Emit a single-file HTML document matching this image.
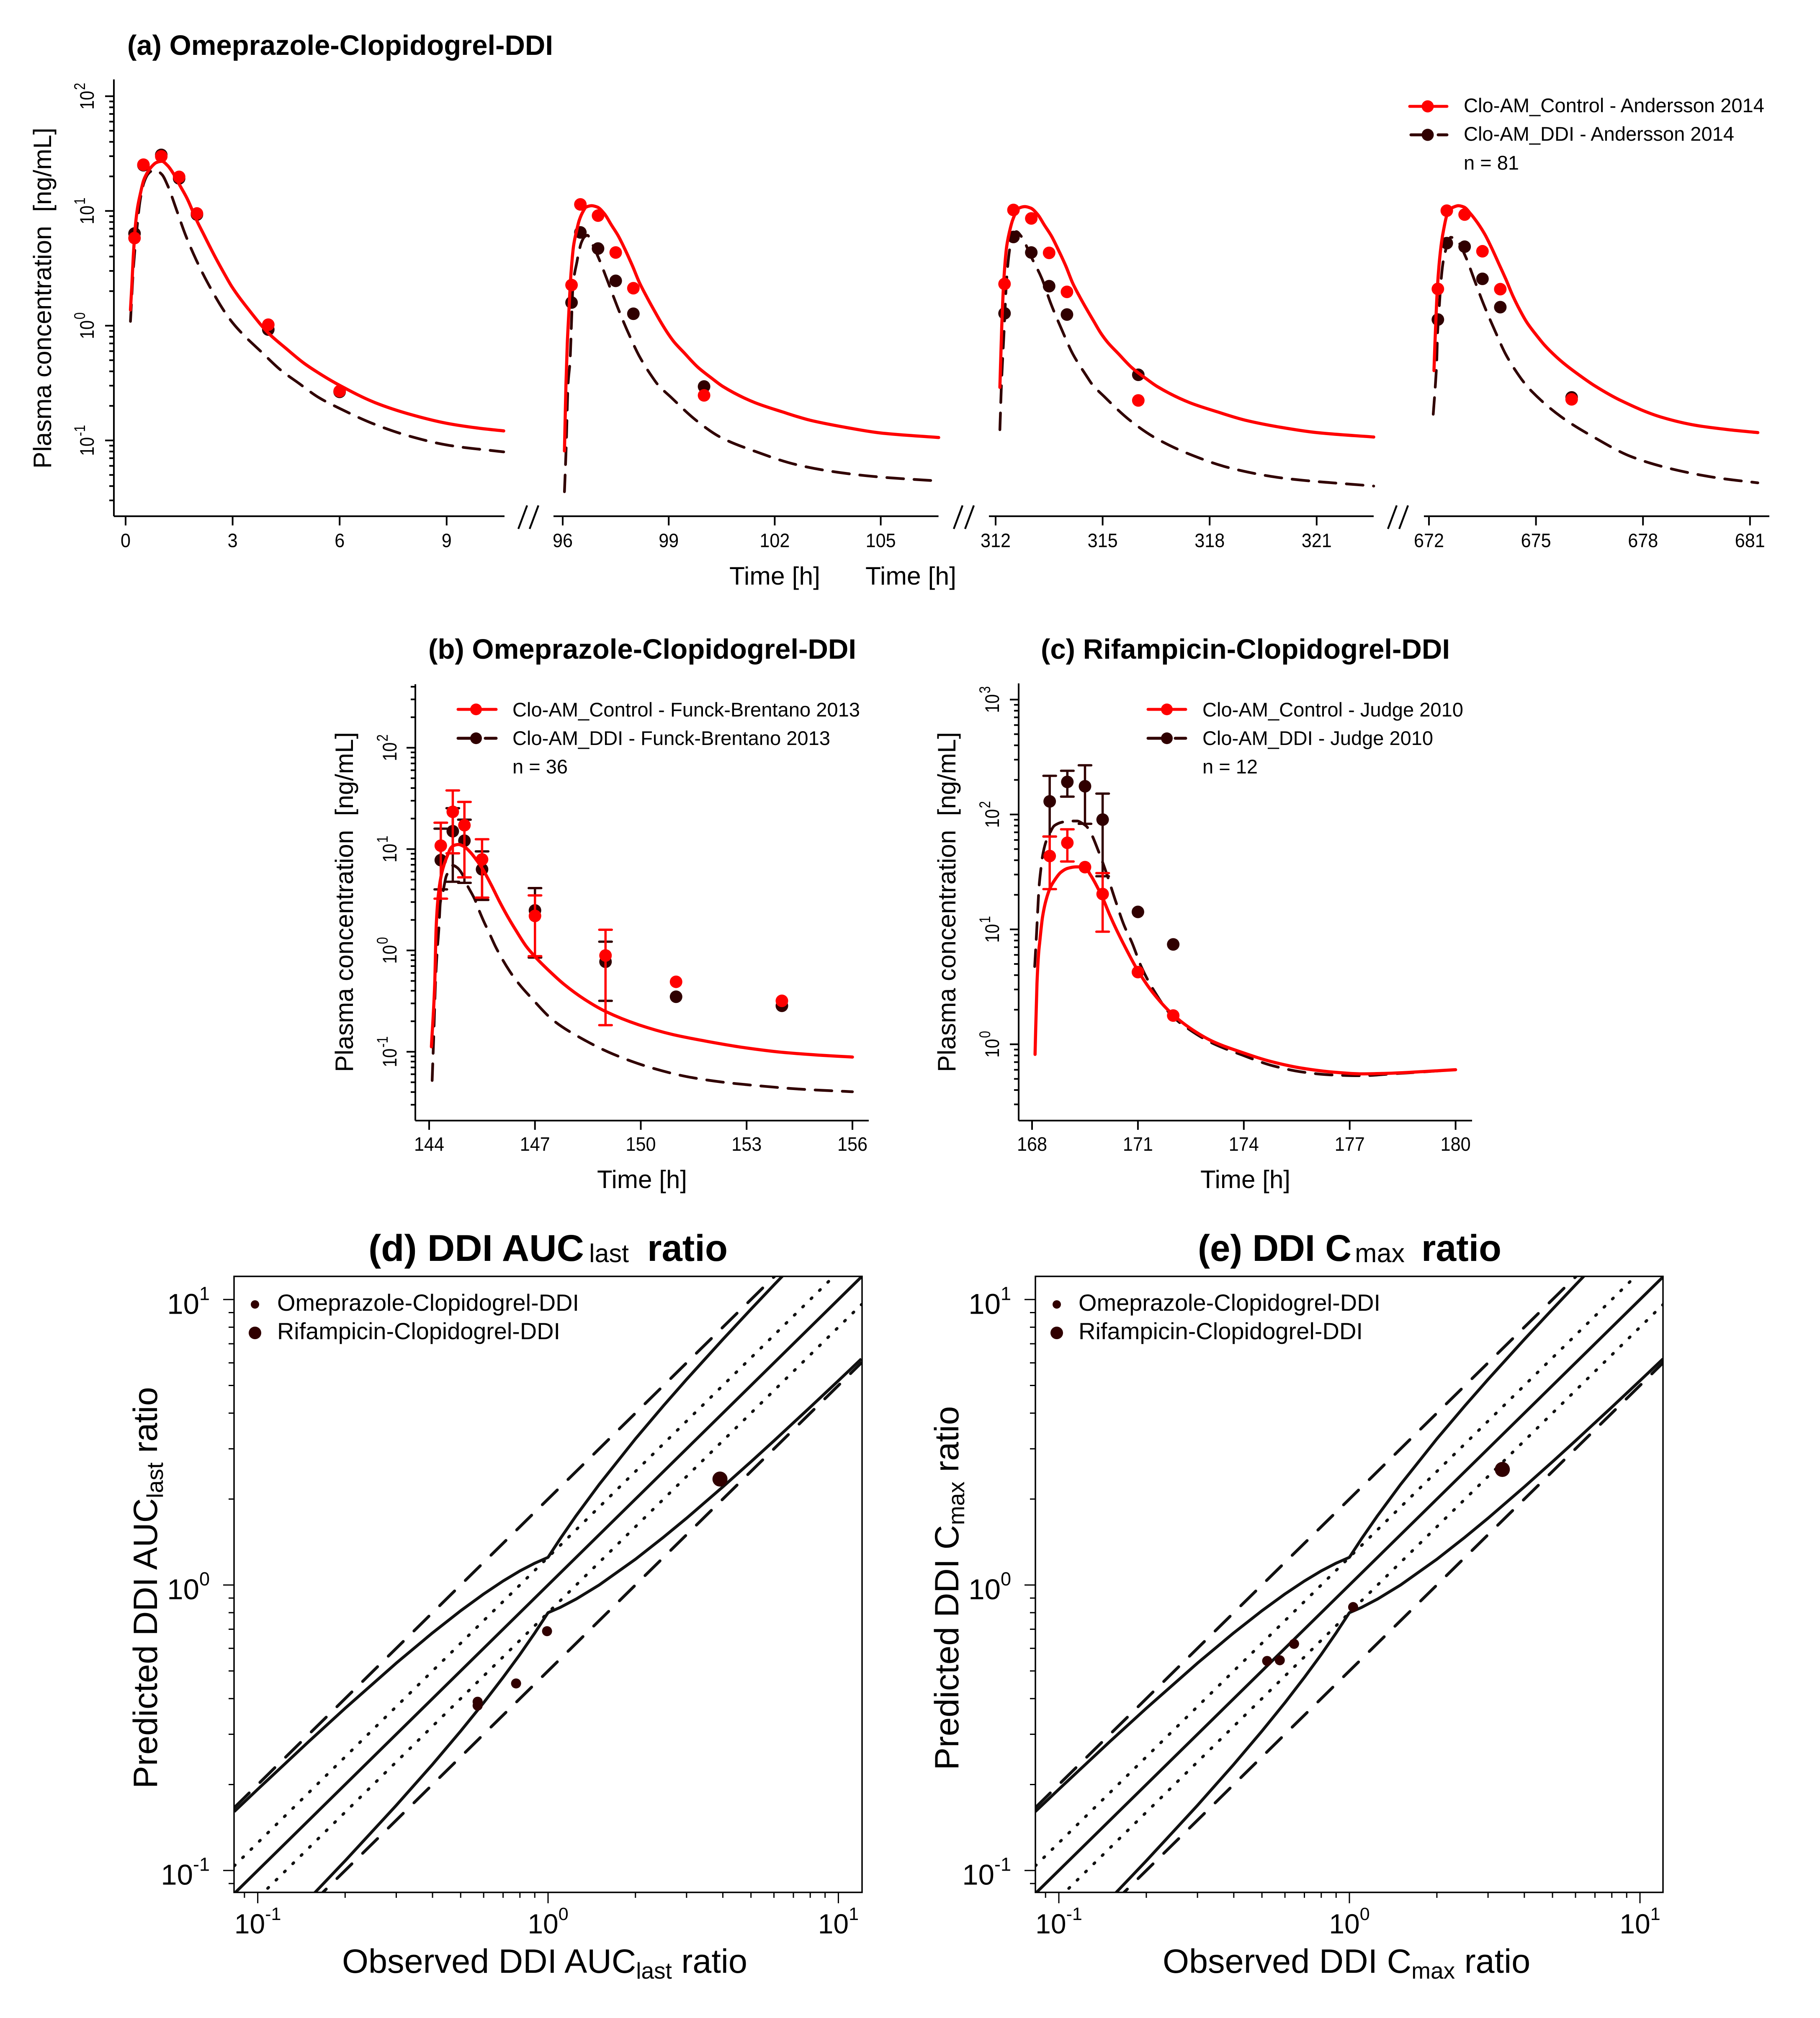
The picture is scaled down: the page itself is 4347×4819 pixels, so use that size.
<!DOCTYPE html>
<html lang="en">
<head>
<meta charset="utf-8">
<title>Clopidogrel DDI plasma concentration and ratio plots</title>
<style>
html,body{margin:0;padding:0;background:#fff;}
svg{display:block;font-family:"Liberation Sans",Arial,sans-serif;}
text{fill:#000;}
.t{font-weight:bold;font-size:67px;}
.lg{font-size:47px;}
.ax{font-size:60px;}
.rt{font-size:81px;}
</style>
</head>
<body>
<svg id="chart" xmlns="http://www.w3.org/2000/svg" width="4347" height="4819" viewBox="0 0 4347 4819">
<defs>
<clipPath id="clipD"><rect x="559" y="3048" width="1500" height="1471"/></clipPath>
<clipPath id="clipE"><rect x="2473" y="3048" width="1499" height="1471"/></clipPath>
</defs>
<rect x="0" y="0" width="4347" height="4819" fill="#fff"/>

<text class="t" x="304" y="131" textLength="1017" lengthAdjust="spacingAndGlyphs">(a) Omeprazole-Clopidogrel-DDI</text>
<text class="t" x="1023" y="1573" textLength="1022" lengthAdjust="spacingAndGlyphs">(b) Omeprazole-Clopidogrel-DDI</text>
<text class="t" x="2486" y="1573" textLength="977" lengthAdjust="spacingAndGlyphs">(c) Rifampicin-Clopidogrel-DDI</text>

<text font-weight="bold" font-size="89" x="880" y="3011" textLength="515" lengthAdjust="spacingAndGlyphs">(d) DDI AUC</text>
<text font-size="61" x="1407" y="3014" textLength="95" lengthAdjust="spacingAndGlyphs">last</text>
<text font-weight="bold" font-size="89" x="1546" y="3011" textLength="192" lengthAdjust="spacingAndGlyphs">ratio</text>

<text font-weight="bold" font-size="89" x="2861" y="3011" textLength="367" lengthAdjust="spacingAndGlyphs">(e) DDI C</text>
<text font-size="63" x="3236" y="3014" textLength="119" lengthAdjust="spacingAndGlyphs">max</text>
<text font-weight="bold" font-size="89" x="3395" y="3011" textLength="191" lengthAdjust="spacingAndGlyphs">ratio</text>

<text class="ax" transform="translate(122 1119) rotate(-90)" textLength="814" lengthAdjust="spacingAndGlyphs">Plasma concentration&#160;&#160;[ng/mL]</text>
<text class="ax" x="1742" y="1396" textLength="217" lengthAdjust="spacingAndGlyphs">Time [h]</text>
<text class="ax" x="2067" y="1396" textLength="217" lengthAdjust="spacingAndGlyphs">Time [h]</text>

<text class="ax" transform="translate(843 2560) rotate(-90)" textLength="812" lengthAdjust="spacingAndGlyphs">Plasma concentration&#160;&#160;[ng/mL]</text>
<text class="ax" x="1426" y="2837" textLength="215" lengthAdjust="spacingAndGlyphs">Time [h]</text>
<text class="ax" transform="translate(2282 2560) rotate(-90)" textLength="812" lengthAdjust="spacingAndGlyphs">Plasma concentration&#160;&#160;[ng/mL]</text>
<text class="ax" x="2867" y="2837" textLength="215" lengthAdjust="spacingAndGlyphs">Time [h]</text>

<text class="rt" x="817" y="4711">Observed DDI AUC<tspan font-size="55" dy="14">last</tspan><tspan dy="-14"> ratio</tspan></text>
<text class="rt" transform="translate(375 4271) rotate(-90)">Predicted DDI AUC<tspan font-size="55" dy="14">last</tspan><tspan dy="-14"> ratio</tspan></text>
<text class="rt" x="2777" y="4711">Observed DDI C<tspan font-size="55" dy="14">max</tspan><tspan dy="-14"> ratio</tspan></text>
<text class="rt" transform="translate(2289 4227) rotate(-90)">Predicted DDI C<tspan font-size="55" dy="14">max</tspan><tspan dy="-14"> ratio</tspan></text>

<g id="plots"></g>

<g>
  <line x1="3367" x2="3456" y1="254" y2="254" stroke="#ff0000" stroke-width="7" stroke-linecap="round"/>
  <circle cx="3410" cy="254" r="14.5" fill="#ff0000"/>
  <text class="lg" x="3496" y="268" textLength="718" lengthAdjust="spacingAndGlyphs">Clo-AM_Control - Andersson 2014</text>
  <line x1="3370" x2="3456" y1="322" y2="322" stroke="#300000" stroke-width="7" stroke-linecap="round" stroke-dasharray="40 25"/>
  <circle cx="3410" cy="322" r="14.5" fill="#300000"/>
  <text class="lg" x="3496" y="336" textLength="646" lengthAdjust="spacingAndGlyphs">Clo-AM_DDI - Andersson 2014</text>
  <text class="lg" x="3496" y="405">n = 81</text>
</g>
<g>
  <line x1="1094" x2="1185" y1="1694" y2="1694" stroke="#ff0000" stroke-width="7" stroke-linecap="round"/>
  <circle cx="1137" cy="1694" r="14" fill="#ff0000"/>
  <text class="lg" x="1224" y="1711" textLength="830" lengthAdjust="spacingAndGlyphs">Clo-AM_Control - Funck-Brentano 2013</text>
  <line x1="1094" x2="1185" y1="1763" y2="1763" stroke="#300000" stroke-width="7" stroke-linecap="round" stroke-dasharray="40 25"/>
  <circle cx="1137" cy="1763" r="14" fill="#300000"/>
  <text class="lg" x="1224" y="1779" textLength="759" lengthAdjust="spacingAndGlyphs">Clo-AM_DDI - Funck-Brentano 2013</text>
  <text class="lg" x="1224" y="1847">n = 36</text>
</g>
<g>
  <line x1="2742" x2="2832" y1="1694" y2="1694" stroke="#ff0000" stroke-width="7" stroke-linecap="round"/>
  <circle cx="2787" cy="1694" r="14" fill="#ff0000"/>
  <text class="lg" x="2872" y="1711" textLength="623" lengthAdjust="spacingAndGlyphs">Clo-AM_Control - Judge 2010</text>
  <line x1="2742" x2="2832" y1="1763" y2="1763" stroke="#300000" stroke-width="7" stroke-linecap="round" stroke-dasharray="40 25"/>
  <circle cx="2787" cy="1763" r="14" fill="#300000"/>
  <text class="lg" x="2872" y="1779" textLength="551" lengthAdjust="spacingAndGlyphs">Clo-AM_DDI - Judge 2010</text>
  <text class="lg" x="2872" y="1847">n = 12</text>
</g>
<g>
  <circle cx="609" cy="3115" r="10" fill="#300000"/>
  <text font-size="56" x="662" y="3130" textLength="721" lengthAdjust="spacingAndGlyphs">Omeprazole-Clopidogrel-DDI</text>
  <circle cx="609" cy="3183" r="15" fill="#300000"/>
  <text font-size="56" x="662" y="3198" textLength="676" lengthAdjust="spacingAndGlyphs">Rifampicin-Clopidogrel-DDI</text>
</g>
<g>
  <circle cx="2524" cy="3115" r="10" fill="#300000"/>
  <text font-size="56" x="2576" y="3130" textLength="721" lengthAdjust="spacingAndGlyphs">Omeprazole-Clopidogrel-DDI</text>
  <circle cx="2524" cy="3183" r="15" fill="#300000"/>
  <text font-size="56" x="2576" y="3198" textLength="679" lengthAdjust="spacingAndGlyphs">Rifampicin-Clopidogrel-DDI</text>
</g>
</svg>

<script>
// ---------- Panel (a), segment 1: 0-10.6 h ----------
const a1ObsTime = [0.25, 0.5, 1, 1.5, 2, 4, 6];
const a1ObsControl = [5.8, 25.3, 29.9, 19.8, 9.5, 1.02, 0.269];
const a1ObsDdi = [6.36, 25, 30.8, 19.2, 9.3, 0.925, 0.265];
const a1SimControlTime = [0.136, 0.176, 0.215, 0.274, 0.333, 0.411, 0.509, 0.626, 0.743, 0.861, 1.017, 1.174, 1.33, 1.526, 1.721, 1.995, 2.191, 2.387, 2.582, 2.778, 2.973, 3.5, 4, 4.5, 5, 5.5, 6, 7, 8, 9, 9.8, 10.6];
const a1SimControl = [1.37, 2.27, 3.98, 7.37, 10.6, 14, 18.6, 22, 24.6, 26.4, 27.1, 24.9, 21.4, 16.6, 12.9, 8.24, 6.23, 4.71, 3.61, 2.8, 2.2, 1.32, 0.863, 0.632, 0.471, 0.372, 0.302, 0.213, 0.168, 0.141, 0.129, 0.121];
const a1SimDdiTime = [0.136, 0.22, 0.3, 0.41, 0.51, 0.63, 0.73, 0.841, 1.017, 1.174, 1.428, 1.682, 1.976, 2.308, 2.77, 3.0, 3.29, 3.82, 4.34, 4.86, 5.39, 6, 6.96, 8, 9.06, 10.6];
const a1SimDdi = [1.09, 3.2, 6.2, 12.5, 17.5, 21, 22.3, 22.6, 20.8, 16.8, 10.2, 6.14, 3.76, 2.34, 1.33, 1.06, 0.84, 0.585, 0.412, 0.314, 0.239, 0.19, 0.139, 0.108, 0.0906, 0.0794];
const a1Ticks = [0, 3, 6, 9];

// ---------- Panel (a), segment 2: 96 h onward (times relative to 96 h) ----------
const a2ObsTime = [0.25, 0.5, 1, 1.5, 2, 4];
const a2ObsControl = [2.26, 11.4, 9.1, 4.34, 2.12, 0.247];
const a2ObsDdi = [1.59, 6.5, 4.7, 2.46, 1.27, 0.295];
const a2SimControlTime = [0.05, 0.091, 0.13, 0.17, 0.229, 0.308, 0.387, 0.466, 0.565, 0.664, 0.821, 0.979, 1.177, 1.374, 1.572, 1.769, 1.967, 2.164, 2.362, 2.559, 2.757, 2.954, 3.152, 3.428, 3.823, 4.218, 4.534, 5.43, 6.2, 7, 8, 9, 10.64];
const a2SimControl = [0.081, 0.303, 0.701, 1.23, 2.69, 4.98, 6.59, 8.24, 9.75, 10.8, 11.1, 10.8, 9.48, 7.58, 6.06, 4.58, 3.36, 2.4, 1.82, 1.41, 1.1, 0.877, 0.721, 0.584, 0.435, 0.348, 0.295, 0.214, 0.178, 0.15, 0.13, 0.116, 0.106];
const a2SimDdiTime = [0.05, 0.1, 0.15, 0.209, 0.257, 0.288, 0.407, 0.446, 0.525, 0.624, 0.703, 0.782, 1.019, 1.295, 1.552, 1.848, 2.164, 2.559, 2.697, 3.05, 3.76, 4.48, 5.43, 6.62, 7.81, 9, 10.64];
const a2SimDdi = [0.0357, 0.0906, 0.303, 0.5, 1.26, 2.15, 3.66, 4.21, 5.27, 5.97, 6.14, 5.57, 3.87, 2.34, 1.45, 0.877, 0.545, 0.348, 0.305, 0.24, 0.151, 0.106, 0.0806, 0.0614, 0.0526, 0.0479, 0.0443];
const a2Ticks = [96, 99, 102, 105];

// ---------- Panel (a), segment 3: 312 h onward (times relative to 312 h) ----------
const a3ObsTime = [0.25, 0.5, 1, 1.5, 2, 4];
const a3ObsControl = [2.31, 10.2, 8.6, 4.31, 1.97, 0.223];
const a3ObsDdi = [1.28, 5.93, 4.34, 2.21, 1.25, 0.373];
const a3SimControlTime = [0.12, 0.17, 0.23, 0.31, 0.39, 0.47, 0.57, 0.66, 0.82, 0.98, 1.18, 1.37, 1.57, 1.77, 1.97, 2.16, 2.36, 2.56, 2.76, 2.95, 3.15, 3.43, 3.82, 4.22, 4.53, 5.43, 6.2, 7, 8, 9, 10.6];
const a3SimControl = [0.29, 0.95, 2.5, 4.9, 6.6, 8.2, 9.7, 10.6, 10.9, 10.6, 9.3, 7.5, 6, 4.5, 3.3, 2.35, 1.78, 1.38, 1.08, 0.86, 0.71, 0.575, 0.43, 0.345, 0.295, 0.214, 0.178, 0.15, 0.13, 0.117, 0.107];
const a3SimDdiTime = [0.12, 0.16, 0.24, 0.31, 0.4, 0.47, 0.58, 0.72, 1.01, 1.29, 1.55, 1.85, 2.16, 2.56, 2.7, 3.05, 3.76, 4.48, 5.43, 6.62, 8.09, 10.6];
const a3SimDdi = [0.124, 0.29, 0.93, 2.56, 4.77, 5.9, 6.6, 6.0, 3.9, 2.6, 1.55, 0.93, 0.57, 0.36, 0.31, 0.24, 0.15, 0.105, 0.076, 0.057, 0.0468, 0.04];
const a3Ticks = [312, 315, 318, 321];

// ---------- Panel (a), segment 4: 672 h onward (times relative to 672 h) ----------
const a4ObsTime = [0.25, 0.5, 1, 1.5, 2, 4];
const a4ObsControl = [2.09, 10.05, 9.3, 4.45, 2.08, 0.228];
const a4ObsDdi = [1.13, 5.24, 4.88, 2.56, 1.45, 0.237];
const a4SimControlTime = [0.141, 0.168, 0.2, 0.239, 0.297, 0.356, 0.415, 0.493, 0.591, 0.689, 0.825, 0.982, 1.178, 1.373, 1.569, 1.764, 1.96, 2.156, 2.351, 2.547, 2.743, 2.977, 3.251, 3.564, 3.838, 4.229, 4.62, 5.4, 6.5, 7.5, 8.4, 9.22];
const a4SimControl = [0.406, 0.701, 1.23, 2.21, 3.76, 5.42, 6.97, 8.97, 10.3, 10.8, 11.1, 10.8, 9.35, 7.79, 6.23, 4.71, 3.46, 2.54, 1.82, 1.37, 1.07, 0.853, 0.671, 0.537, 0.454, 0.368, 0.303, 0.221, 0.16, 0.135, 0.124, 0.117];
const a4SimDdiTime = [0.12, 0.18, 0.219, 0.239, 0.286, 0.336, 0.395, 0.434, 0.493, 0.61, 0.767, 1.021, 1.287, 1.549, 1.843, 2.156, 2.547, 2.664, 2.87, 3.69, 4.64, 5.69, 6.99, 8.16, 9.22];
const a4SimDdi = [0.169, 0.303, 0.5, 0.83, 1.41, 2.4, 3.56, 4.09, 4.84, 5.89, 5.65, 4.03, 2.44, 1.49, 0.914, 0.56, 0.358, 0.32, 0.27, 0.162, 0.106, 0.0718, 0.0547, 0.0468, 0.0427];
const a4Ticks = [672, 675, 678, 681];
const aYExponents = [-1, 0, 1, 2];

// ---------- Panel (b): Funck-Brentano 2013 (times relative to 144 h) ----------
const bObsTime = [0.33, 0.67, 1, 1.5, 3, 5, 7, 10];
const bObsControl = [10.8, 23.3, 17.2, 7.9, 2.19, 0.891, 0.49, 0.318];
const bObsDdi = [7.78, 15, 12.1, 6.31, 2.48, 0.773, 0.349, 0.284];
const bErrTime = [0.33, 0.67, 1, 1.5, 3, 5];
const bControlUpper = [18.2, 37.9, 29.2, 12.5, 3.49, 1.6];
const bControlLower = [3.24, 9.08, 5.26, 3.32, 0.877, 0.183];
const bDdiUpper = [15.9, 25.3, 19.5, 9.49, 4.12, 1.22];
const bDdiLower = [4, 4.76, 4.64, 3.15, 0.85, 0.318];
const bSimControlTime = [0.064, 0.158, 0.198, 0.257, 0.336, 0.415, 0.534, 0.613, 0.712, 0.831, 0.989, 1.167, 1.325, 1.503, 1.761, 1.998, 2.235, 2.473, 2.75, 3.026, 3.422, 3.818, 4.4, 5, 5.95, 6.9, 7.86, 8.92, 9.98, 11.04, 12];
const bSimControl = [0.112, 0.465, 1.66, 3.43, 5.35, 6.89, 8.89, 10.25, 10.9, 11.1, 10.6, 9.31, 7.95, 6.47, 4.42, 3.02, 2.13, 1.55, 1.1, 0.849, 0.619, 0.465, 0.33, 0.25, 0.184, 0.148, 0.127, 0.11, 0.099, 0.0927, 0.0887];
const bSimDdiTime = [0.085, 0.127, 0.178, 0.218, 0.277, 0.317, 0.376, 0.487, 0.593, 0.673, 0.791, 0.969, 1.048, 1.306, 1.365, 1.583, 1.662, 1.899, 2.275, 2.552, 2.88, 3.52, 4.36, 5.21, 6.27, 7.33, 8.39, 9.45, 10.5, 12];
const bSimDdi = [0.052, 0.132, 0.465, 0.879, 1.66, 2.97, 3.54, 5.43, 6.27, 6.9, 6.58, 5.43, 4.64, 3.12, 2.75, 1.82, 1.6, 1.06, 0.63, 0.465, 0.345, 0.204, 0.133, 0.095, 0.07, 0.0566, 0.0498, 0.0458, 0.0428, 0.0403];
const bTicks = [144, 147, 150, 153, 156];
const bYExponents = [-1, 0, 1, 2];

// ---------- Panel (c): Judge 2010 (times relative to 168 h) ----------
const cObsTime = [0.5, 1, 1.5, 2, 3, 4];
const cObsControl = [43.5, 56.7, 34.8, 20.3, 4.25, 1.78];
const cObsDdi = [130, 192, 176, 90.2, 14.2, 7.4];
const cControlErrTime = [0.5, 1, 2];
const cControlUpper = [64.3, 74.3, 30.9];
const cControlLower = [22.4, 39, 9.55];
const cDdiErrTime = [0.5, 1, 1.5, 2];
const cDdiUpper = [217, 240, 268, 152];
const cDdiLower = [64.3, 143, 83, 29];
const cSimControlTime = [0.085, 0.14, 0.19, 0.217, 0.297, 0.395, 0.514, 0.652, 0.811, 1.008, 1.246, 1.483, 1.661, 1.839, 1.997, 2.195, 2.392, 2.59, 3, 3.42, 3.95, 4.48, 5.12, 5.96, 6.81, 7.66, 8.5, 9.35, 10.2, 11.04, 12];
const cSimControl = [0.817, 3.39, 6.4, 7.73, 12.8, 17.9, 23, 27.2, 31.3, 34, 35, 35, 29.6, 23.7, 18.9, 13.5, 9.95, 7.5, 4.37, 2.82, 1.86, 1.38, 1.06, 0.848, 0.703, 0.619, 0.574, 0.553, 0.561, 0.578, 0.601];
const cSimDdiTime = [0.075, 0.119, 0.158, 0.198, 0.257, 0.277, 0.395, 0.474, 0.633, 0.85, 1.048, 1.285, 1.404, 1.542, 1.661, 1.878, 2.135, 2.361, 2.61, 2.827, 3.1, 3.42, 3.95, 4.48, 5.12, 5.96, 6.81, 7.66, 8.5, 9.35, 10.2, 11.04, 12];
const cSimDdi = [4.75, 8.18, 13.9, 23.3, 35, 39.8, 58, 65.8, 80, 85.7, 87.7, 87.7, 84.5, 78.9, 69.5, 48.3, 29.2, 17.9, 10.8, 7.73, 4.7, 3.05, 1.79, 1.33, 1.02, 0.805, 0.652, 0.574, 0.541, 0.533, 0.553, 0.574, 0.601];
const cTicks = [168, 171, 174, 177, 180];
const cYExponents = [0, 1, 2, 3];

// ---------- Panels (d) and (e): observed vs predicted DDI ratios ----------
const dOmeObserved = [0.572, 0.572, 0.776, 0.992];
const dOmePredicted = [0.39, 0.378, 0.452, 0.689];
const dRifObserved = [3.91];
const dRifPredicted = [2.35];
const eOmeObserved = [0.521, 0.576, 0.645, 1.03];
const eOmePredicted = [0.542, 0.545, 0.622, 0.837];
const eRifObserved = [3.36];
const eRifPredicted = [2.54];
const ratioGrid = [0.083, 0.1, 0.15, 0.2, 0.3, 0.4, 0.5, 0.6, 0.7, 0.8, 0.9, 1, 1.1, 1.25, 1.5, 2, 2.5, 3, 4, 5, 6, 8, 10, 12];
const guestUpper = [0.1608, 0.1925, 0.2831, 0.37, 0.5325, 0.68, 0.8125, 0.93, 1.0325, 1.12, 1.1925, 1.25, 1.45, 1.75, 2.25, 3.25, 4.25, 5.25, 7.25, 9.25, 11.25, 15.25, 19.25, 23.25];
const guestLower = [0.0428, 0.0519, 0.0795, 0.1081, 0.169, 0.2353, 0.3077, 0.387, 0.4746, 0.571, 0.679, 0.8, 0.834, 0.893, 1, 1.231, 1.471, 1.714, 2.207, 2.703, 3.2, 4.197, 5.195, 6.194];
const rangeEnds = [0.083, 12];
const foldDashed = [2, 0.5];
const foldDotted = [1.25, 0.8];
const ratioExponents = [-1, 0, 1];

// ---------- Styles ----------
const RED = '#ff0000';
const DARK = '#300000';
const INK = '#111111';
const NS = 'http://www.w3.org/2000/svg';
const plots = document.getElementById('plots');

// ---------- Axis functions ----------
const yA = c => 777.7 - 274 * Math.log10(c);
const yB = c => 2269.6 - 242 * Math.log10(c);
const yC = c => 2493.8 - 274.4 * Math.log10(c);
const xA1 = t => 300 + 85.2 * t;
const xA2 = t => 1344 + 84.4 * t;
const xA3 = t => 2378 + 85.2 * t;
const xA4 = t => 3413 + 85.2 * t;
const xB = t => 1025 + 84.25 * t;
const xC = t => 2465 + 84.3 * t;
const xD = r => 1309 + 693.4 * Math.log10(r);
const xE = r => 3223 + 694 * Math.log10(r);
const yR = r => 3785 - 681.7 * Math.log10(r);

// ---------- Drawing helpers ----------
function shape(tag, attrs, parent) {
  const node = document.createElementNS(NS, tag);
  for (const k in attrs) node.setAttribute(k, attrs[k]);
  (parent || plots).appendChild(node);
  return node;
}
function group(name, parent) {
  const g = document.createElementNS(NS, 'g');
  
  
  (parent || plots).appendChild(g);
  return g;
}
// Monotone cubic (Fritsch-Butland) path through the given pixel points.
function smoothPath(px, py) {
  const n = px.length;
  const h = [], d = [], m = new Array(n);
  for (let i = 0; i < n - 1; i++) {
    h[i] = px[i + 1] - px[i];
    d[i] = (py[i + 1] - py[i]) / h[i];
  }
  m[0] = d[0];
  m[n - 1] = d[n - 2];
  for (let i = 1; i < n - 1; i++) {
    if (d[i - 1] * d[i] <= 0) { m[i] = 0; continue; }
    const w1 = 2 * h[i] + h[i - 1], w2 = h[i] + 2 * h[i - 1];
    m[i] = (w1 + w2) / (w1 / d[i - 1] + w2 / d[i]);
  }
  let path = 'M' + px[0].toFixed(1) + ' ' + py[0].toFixed(1);
  for (let i = 0; i < n - 1; i++) {
    const c1x = px[i] + h[i] / 3, c1y = py[i] + m[i] * h[i] / 3;
    const c2x = px[i + 1] - h[i] / 3, c2y = py[i + 1] - m[i + 1] * h[i] / 3;
    path += 'C' + c1x.toFixed(1) + ' ' + c1y.toFixed(1) + ' ' + c2x.toFixed(1) + ' ' + c2y.toFixed(1) + ' ' + px[i + 1].toFixed(1) + ' ' + py[i + 1].toFixed(1);
  }
  return path;
}
function simCurve(parent, name, times, values, fx, fy, color, dash) {
  const p = shape('path', {
    d: smoothPath(times.map(fx), values.map(fy)), fill: 'none', stroke: color,
    'stroke-width': dash ? 6.5 : 7.5, 'stroke-linejoin': 'round', 'stroke-linecap': 'round', 'stroke-dasharray': dash || 'none'
  }, parent);
  
  
}
function dots(parent, name, xs, ys, fx, fy, color, r) {
  xs.forEach((x, i) => {
    const c = shape('circle', { cx: fx(x), cy: fy(ys[i]), r: r, fill: color }, parent);
    
    
  });
}
function errorBars(parent, name, times, upper, lower, fx, fy, color) {
  times.forEach((t, i) => {
    const g = group(name, parent);
    const x = fx(t), yu = fy(upper[i]), yl = fy(lower[i]);
    shape('path', {
      d: 'M' + x + ' ' + yu + 'V' + yl + 'M' + (x - 15) + ' ' + yu + 'H' + (x + 15) + 'M' + (x - 15) + ' ' + yl + 'H' + (x + 15),
      fill: 'none', stroke: color, 'stroke-width': 5.5, 'stroke-linecap': 'round'
    }, g);
  });
}
function xAxis(parent, x0, x1, y, ticks, fx, offset, baseline) {
  const line = shape('line', { x1: x0, x2: x1, y1: y, y2: y, stroke: '#000', 'stroke-width': 4 }, parent);
  
  
  ticks.forEach(v => {
    const x = fx(v - offset);
    const tk = shape('line', { x1: x, x2: x, y1: y, y2: y + 22, stroke: '#000', 'stroke-width': 4 }, parent);
    
    
    const s = String(v);
    const label = shape('text', {
      x: x, y: baseline, 'font-size': 46, 'text-anchor': 'middle',
      textLength: 24 * s.length, lengthAdjust: 'spacingAndGlyphs'
    }, parent);
    label.textContent = s;
    
    
  });
}
function logYAxis(parent, x, top, bottom, exps, fy, labelX) {
  const line = shape('line', { x1: x, x2: x, y1: top, y2: bottom, stroke: '#000', 'stroke-width': 4 }, parent);
  
  
  for (let e = -3; e <= 3; e++) {
    for (let m = 1; m < 10; m++) {
      const y = fy(m * Math.pow(10, e));
      if (y < top || y > bottom) continue;
      const tk = shape('line', { x1: x - (m === 1 ? 21 : 11), x2: x, y1: y, y2: y, stroke: '#000', 'stroke-width': 4 }, parent);
      
      
    }
  }
  exps.forEach(e => {
    const y = fy(Math.pow(10, e));
    const supText = String(e);
    const supLen = supText.length > 1 ? 27 : 17;
    const start = y + (45 + 2 + supLen) / 2;
    const base = shape('text', {
      'font-size': 47, textLength: 45, lengthAdjust: 'spacingAndGlyphs',
      transform: 'translate(' + labelX + ' ' + start + ') rotate(-90)'
    }, parent);
    base.textContent = '10';
    
    
    const sup = shape('text', {
      'font-size': 37, textLength: supLen, lengthAdjust: 'spacingAndGlyphs',
      transform: 'translate(' + (labelX - 21) + ' ' + (start - 47) + ') rotate(-90)'
    }, parent);
    sup.textContent = supText;
    
    
  });
}
function axisBreak(parent, xLeft) {
  [0, 27].forEach(dx => {
    const s = shape('line', { x1: xLeft + dx, y1: 1263, x2: xLeft + dx + 21, y2: 1207, stroke: '#000', 'stroke-width': 4.5 }, parent);
    
    
  });
}
function ratioPanel(parent, fx, left, right, clipId, omeX, omeY, rifX, rifY, labelAnchorX) {
  const inner = group('reference-lines', parent);
  inner.setAttribute('clip-path', 'url(#' + clipId + ')');
  const ends = rangeEnds;
  const straight = (name, k, dash) => {
    const l = shape('line', {
      x1: fx(ends[0]), y1: yR(ends[0] * k), x2: fx(ends[1]), y2: yR(ends[1] * k),
      stroke: INK, 'stroke-width': 7, 'stroke-linecap': dash ? 'round' : 'butt', 'stroke-dasharray': dash || 'none'
    }, inner);
    
    
  };
  straight('unity-line', 1);
  foldDashed.forEach(k => straight('two-fold-limit-line', k, '50 36'));
  foldDotted.forEach(k => straight('dotted-limit-line', k, '3 25'));
  const guest = (name, vals) => {
    const pts = ratioGrid.map((r, i) => fx(r).toFixed(1) + ',' + yR(vals[i]).toFixed(1)).join(' ');
    const l = shape('polyline', { points: pts, fill: 'none', stroke: INK, 'stroke-width': 7, 'stroke-linejoin': 'round' }, inner);
    
    
  };
  guest('guest-upper-limit', guestUpper);
  guest('guest-lower-limit', guestLower);

  dots(parent, 'omeprazole-point', omeX, omeY, fx, yR, DARK, 12);
  dots(parent, 'rifampicin-point', rifX, rifY, fx, yR, DARK, 18);

  const box = shape('rect', { x: left, y: 3048, width: right - left, height: 1471, fill: 'none', stroke: '#000', 'stroke-width': 3.5 }, parent);
  
  

  for (let e = -2; e <= 1; e++) {
    for (let m = 1; m < 10; m++) {
      const v = m * Math.pow(10, e);
      if (v < ends[0] || v > ends[1]) continue;
      const len = m === 1 ? 26 : 13;
      const tx = shape('line', { x1: fx(v), x2: fx(v), y1: 4519, y2: 4519 + len, stroke: '#000', 'stroke-width': 3 }, parent);
      
      
      const ty = shape('line', { x1: left - len, x2: left, y1: yR(v), y2: yR(v), stroke: '#000', 'stroke-width': 3 }, parent);
      
      
    }
  }
  ratioExponents.forEach(e => {
    const v = Math.pow(10, e);
    const xl = shape('text', { x: fx(v), y: 4617, 'font-size': 66, 'text-anchor': 'middle' }, parent);
    
    
    xl.innerHTML = '<tspan>10</tspan><tspan font-size="43" dy="-32">' + e + '</tspan>';
    const yl = shape('text', { x: labelAnchorX, y: yR(v) + 34, 'font-size': 69, 'text-anchor': 'end' }, parent);
    
    
    yl.innerHTML = '<tspan>10</tspan><tspan font-size="45" dy="-33">' + e + '</tspan>';
  });
}

// ---------- Panel (a) ----------
const DASH = '40 25';
const panelA = group('panel-a');
logYAxis(panelA, 272, 189.6, 1232.7, aYExponents, yA, 224);
[1238, 2278, 3315].forEach(x => axisBreak(panelA, x));
const segA = [
  [xA1, a1Ticks, 0, 272, 1205, a1ObsTime, a1ObsControl, a1ObsDdi, a1SimControlTime, a1SimControl, a1SimDdiTime, a1SimDdi],
  [xA2, a2Ticks, 96, 1322, 2241.6, a2ObsTime, a2ObsControl, a2ObsDdi, a2SimControlTime, a2SimControl, a2SimDdiTime, a2SimDdi],
  [xA3, a3Ticks, 312, 2362, 3281, a3ObsTime, a3ObsControl, a3ObsDdi, a3SimControlTime, a3SimControl, a3SimDdiTime, a3SimDdi],
  [xA4, a4Ticks, 672, 3401, 4226, a4ObsTime, a4ObsControl, a4ObsDdi, a4SimControlTime, a4SimControl, a4SimDdiTime, a4SimDdi]
];
segA.forEach(s => {
  const g = group('panel-a-dosing-segment', panelA);
  xAxis(g, s[3], s[4], 1232.7, s[1], s[0], s[2], 1306.5);
  dots(g, 'observed-ddi-point', s[5], s[7], s[0], yA, DARK, 15);
  simCurve(g, 'simulated-ddi-curve', s[10], s[11], s[0], yA, DARK, DASH);
  dots(g, 'observed-control-point', s[5], s[6], s[0], yA, RED, 15);
  simCurve(g, 'simulated-control-curve', s[8], s[9], s[0], yA, RED);
});

// ---------- Panel (b) ----------
const panelB = group('panel-b');
logYAxis(panelB, 992, 1634, 2676, bYExponents, yB, 947);
xAxis(panelB, 992, 2075, 2676, bTicks, xB, 144, 2748);
simCurve(panelB, 'simulated-ddi-curve', bSimDdiTime, bSimDdi, xB, yB, DARK, DASH);
errorBars(panelB, 'ddi-error-bar', bErrTime, bDdiUpper, bDdiLower, xB, yB, DARK);
dots(panelB, 'observed-ddi-point', bObsTime, bObsDdi, xB, yB, DARK, 15);
simCurve(panelB, 'simulated-control-curve', bSimControlTime, bSimControl, xB, yB, RED);
errorBars(panelB, 'control-error-bar', bErrTime, bControlUpper, bControlLower, xB, yB, RED);
dots(panelB, 'observed-control-point', bObsTime, bObsControl, xB, yB, RED, 15);

// ---------- Panel (c) ----------
const panelC = group('panel-c');
logYAxis(panelC, 2433, 1632, 2676, cYExponents, yC, 2386);
xAxis(panelC, 2433, 3516, 2676, cTicks, xC, 168, 2748);
simCurve(panelC, 'simulated-ddi-curve', cSimDdiTime, cSimDdi, xC, yC, DARK, DASH);
errorBars(panelC, 'ddi-error-bar', cDdiErrTime, cDdiUpper, cDdiLower, xC, yC, DARK);
dots(panelC, 'observed-ddi-point', cObsTime, cObsDdi, xC, yC, DARK, 15);
simCurve(panelC, 'simulated-control-curve', cSimControlTime, cSimControl, xC, yC, RED);
errorBars(panelC, 'control-error-bar', cControlErrTime, cControlUpper, cControlLower, xC, yC, RED);
dots(panelC, 'observed-control-point', cObsTime, cObsControl, xC, yC, RED, 15);

// ---------- Panels (d), (e) ----------
const panelD = group('panel-d');
ratioPanel(panelD, xD, 559, 2059, 'clipD', dOmeObserved, dOmePredicted, dRifObserved, dRifPredicted, 501);
const panelE = group('panel-e');
ratioPanel(panelE, xE, 2473, 3972, 'clipE', eOmeObserved, eOmePredicted, eRifObserved, eRifPredicted, 2415);
</script>
</body>
</html>
